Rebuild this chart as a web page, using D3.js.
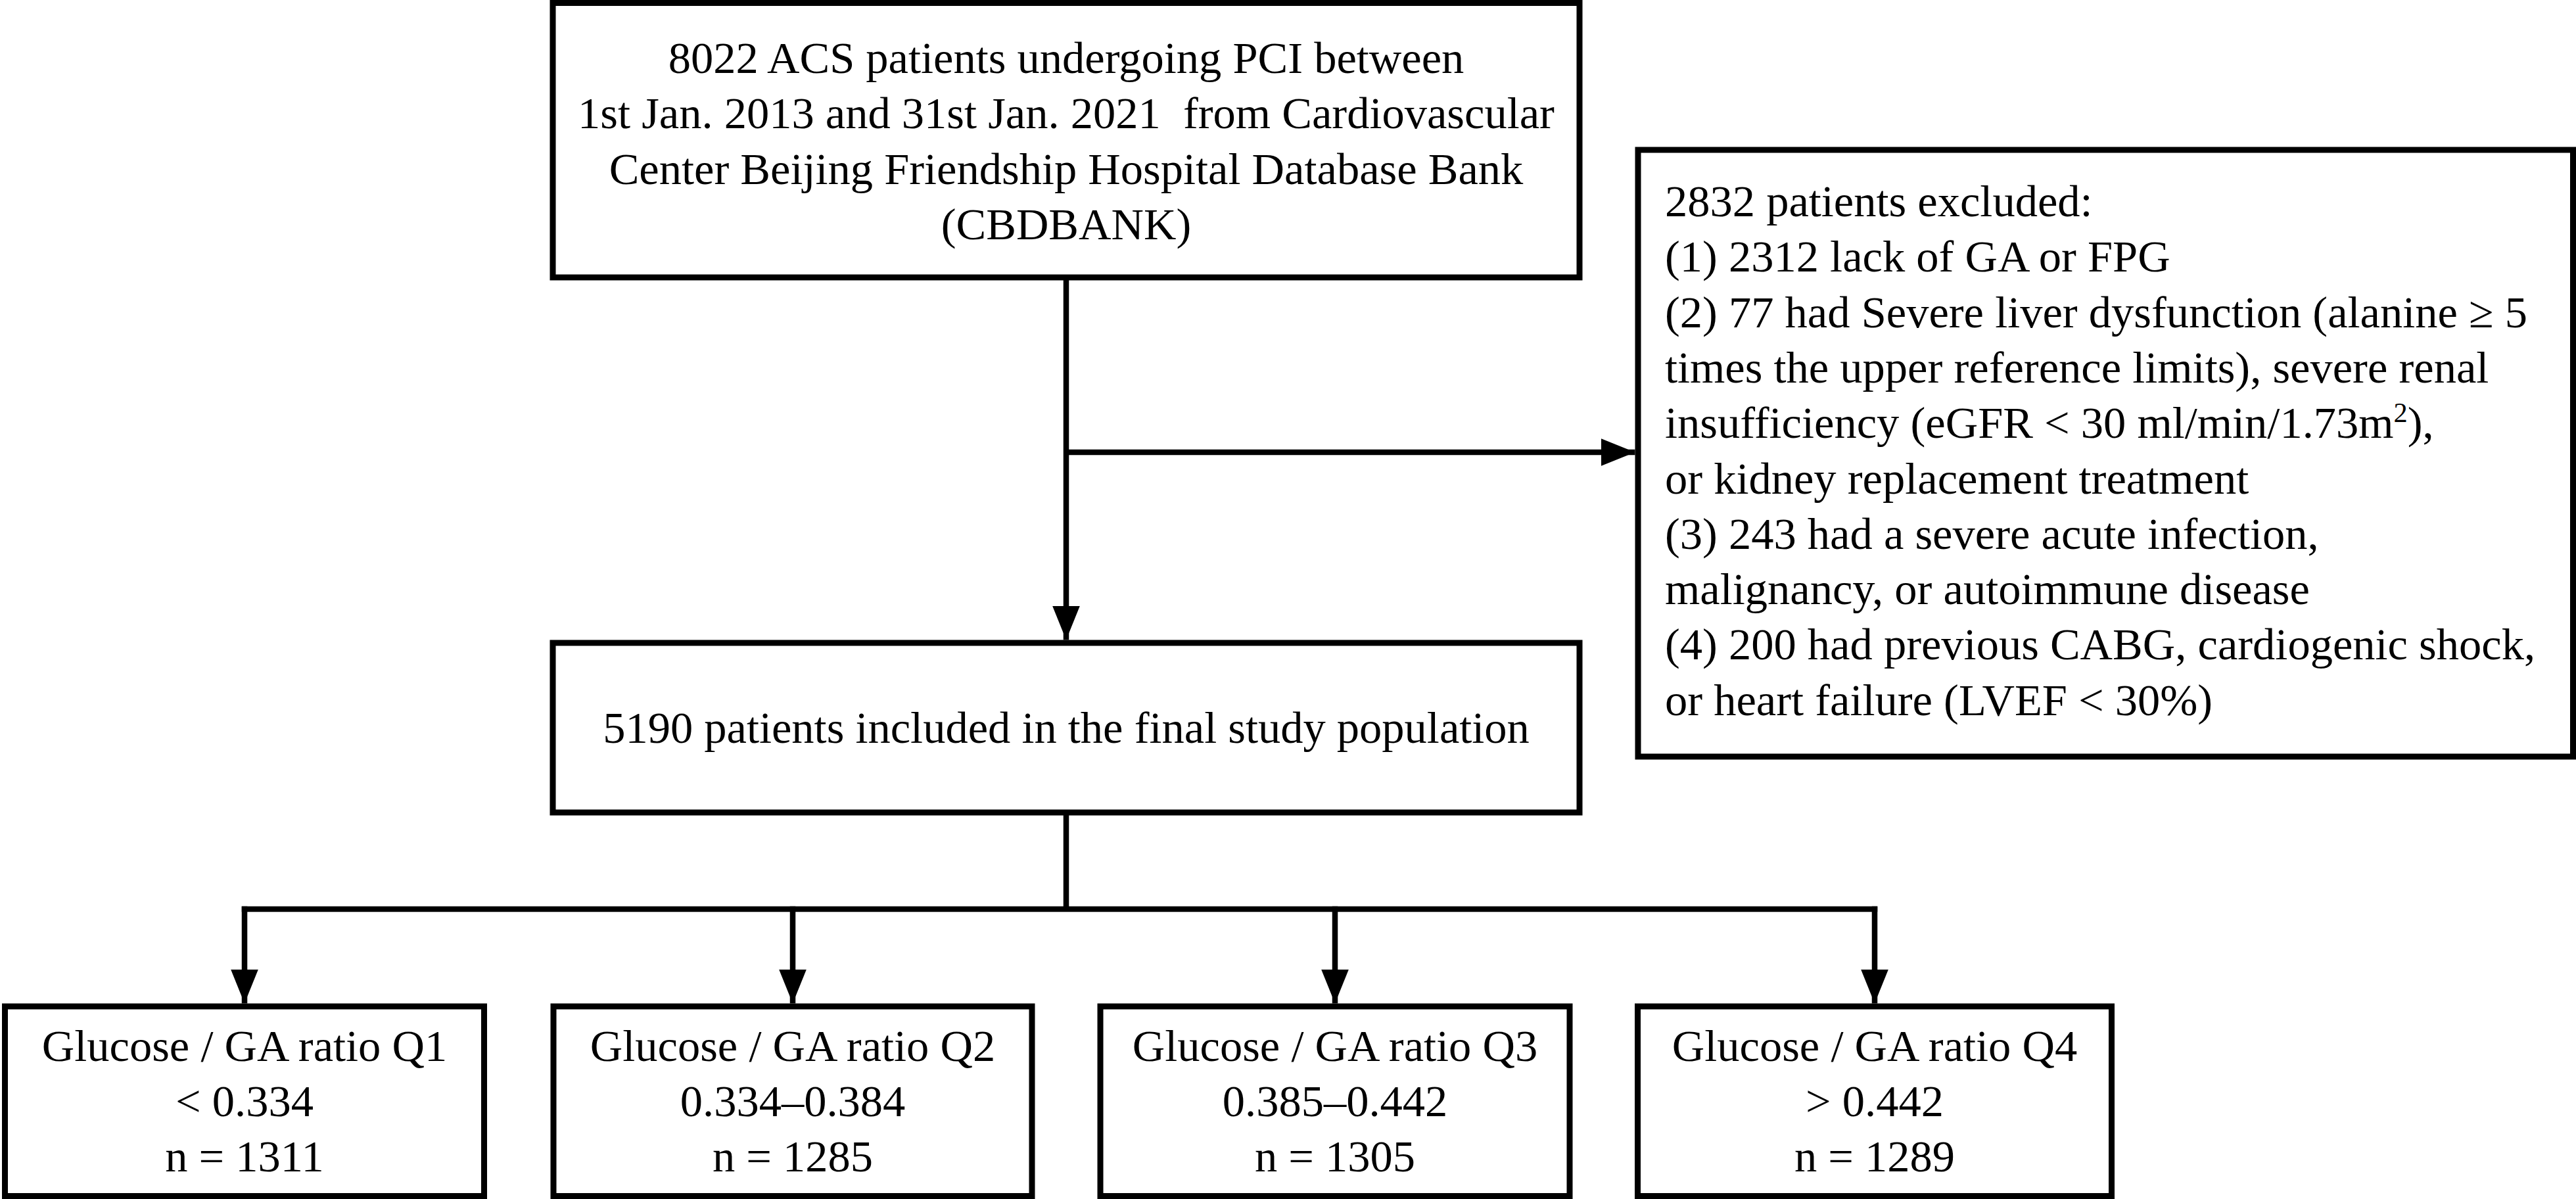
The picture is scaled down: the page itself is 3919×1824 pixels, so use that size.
<!DOCTYPE html>
<html>
<head>
<meta charset="utf-8">
<script src="https://cdn.jsdelivr.net/npm/d3@7"></script>
<style>
  html, body { margin: 0; padding: 0; background: #ffffff; }
  svg { display: block; }
  text { white-space: pre; }
</style>
</head>
<body>
<script>
// ---------------- data ----------------
const sourceLines = [
  "8022 ACS patients undergoing PCI between",
  "1st Jan. 2013 and 31st Jan. 2021  from Cardiovascular",
  "Center Beijing Friendship Hospital Database Bank",
  "(CBDBANK)"
];
const includedLines = ["5190 patients included in the final study population"];
// "^2" marks a superscript 2
const excludedLines = [
  "2832 patients excluded:",
  "(1) 2312 lack of GA or FPG",
  "(2) 77 had Severe liver dysfunction (alanine ≥ 5",
  "times the upper reference limits), severe renal",
  "insufficiency (eGFR < 30 ml/min/1.73m^2),",
  "or kidney replacement treatment",
  "(3) 243 had a severe acute infection,",
  "malignancy, or autoimmune disease",
  "(4) 200 had previous CABG, cardiogenic shock,",
  "or heart failure (LVEF < 30%)"
];
const quartileNames = ["Q1", "Q2", "Q3", "Q4"];
const quartileTitles = ["Glucose / GA ratio Q1", "Glucose / GA ratio Q2", "Glucose / GA ratio Q3", "Glucose / GA ratio Q4"];
const quartileRanges = ["< 0.334", "0.334–0.384", "0.385–0.442", "> 0.442"];
const quartileCounts = [1311, 1285, 1305, 1289];

// ---------------- layout ----------------
const W = 3919, H = 1824;
const FONT = "'Liberation Serif', 'Times New Roman', Times, serif";
const FS = 68.5;
const LH = 84.3;
const BOX_SW = 9, LINE_SW = 8.5;

const svg = d3.select("body").append("svg")
  .attr("width", W).attr("height", H)
  .attr("viewBox", `0 0 ${W} ${H}`);

svg.append("rect").attr("width", W).attr("height", H).attr("fill", "#fff");

const defs = svg.append("defs");
defs.append("marker")
  .attr("id", "arrow")
  .attr("viewBox", "0 0 52 42")
  .attr("refX", 52).attr("refY", 21)
  .attr("markerWidth", 52).attr("markerHeight", 42)
  .attr("markerUnits", "userSpaceOnUse")
  .attr("orient", "auto")
  .append("path")
  .attr("d", "M0,0 L52,21 L0,42 Z")
  .attr("fill", "#000");

// main column boxes (stroke-centre coordinates)
const mainX = d3.scaleLinear().domain([0, 1]).range([841, 2403]);
const topBox = { x0: mainX(0), x1: mainX(1), y0: 4.5, y1: 422 };
const midBox = { x0: mainX(0), x1: mainX(1), y0: 978, y1: 1236 };
const excBox = { x0: 2492, x1: 3914.5, y0: 228, y1: 1151 };
const spineX = 1622;
const excBranchY = 688;
const splitY = 1383;

// quartile boxes
const qCenter = d3.scaleOrdinal().domain(quartileNames).range([372, 1206, 2031, 2852]);
const qHalf = d3.scaleOrdinal().domain(quartileNames).range([364.5, 364, 357, 360.5]);
const qY0 = 1531, qY1 = 1819.5;

function drawBox(b) {
  svg.append("rect")
    .attr("x", b.x0).attr("y", b.y0)
    .attr("width", b.x1 - b.x0).attr("height", b.y1 - b.y0)
    .attr("fill", "#fff").attr("stroke", "#000").attr("stroke-width", BOX_SW);
}

drawBox(topBox);
drawBox(midBox);
drawBox(excBox);
quartileNames.forEach(q => drawBox({ x0: qCenter(q) - qHalf(q), x1: qCenter(q) + qHalf(q), y0: qY0, y1: qY1 }));

// connectors
const line = d3.line();
const lines = svg.append("g").attr("fill", "none").attr("stroke", "#000").attr("stroke-width", LINE_SW);

lines.append("path").attr("d", line([[spineX, topBox.y1], [spineX, midBox.y0 - BOX_SW / 2]]))
  .attr("marker-end", "url(#arrow)");
lines.append("path").attr("d", line([[spineX, excBranchY], [excBox.x0 - BOX_SW / 2, excBranchY]]))
  .attr("marker-end", "url(#arrow)");
lines.append("path").attr("d", line([[spineX, midBox.y1], [spineX, splitY]]));
lines.append("path").attr("d", line([[qCenter("Q1") - LINE_SW / 2, splitY], [qCenter("Q4") + LINE_SW / 2, splitY]]))
  .attr("stroke-linecap", "butt");
quartileNames.forEach(q => {
  lines.append("path").attr("d", line([[qCenter(q), splitY - LINE_SW / 2], [qCenter(q), qY0 - BOX_SW / 2]]))
    .attr("marker-end", "url(#arrow)");
});

// text helpers
function addText(x, y, str, anchor) {
  const t = svg.append("text")
    .attr("x", x).attr("y", y)
    .attr("font-family", FONT).attr("font-size", FS)
    .attr("fill", "#000").attr("text-anchor", anchor);
  const parts = str.split("^");
  t.append("tspan").text(parts[0]);
  for (let i = 1; i < parts.length; i++) {
    t.append("tspan").attr("dy", -FS * 0.36).attr("font-size", FS * 0.62).text(parts[i][0]);
    t.append("tspan").attr("dy", FS * 0.36).text(parts[i].slice(1));
  }
  return t;
}

// top box text
sourceLines.forEach((s, i) => addText(spineX, 111 + i * LH, s, "middle"));
// middle box text
includedLines.forEach((s, i) => addText(spineX, 1130 + i * LH, s, "middle"));
// exclusion text
excludedLines.forEach((s, i) => addText(2533, 329 + i * LH, s, "start"));
// quartile text
quartileNames.forEach((q, i) => {
  addText(qCenter(q), 1614, quartileTitles[i], "middle");
  addText(qCenter(q), 1698, quartileRanges[i], "middle");
  addText(qCenter(q), 1782, "n = " + quartileCounts[i], "middle");
});
</script>
</body>
</html>
